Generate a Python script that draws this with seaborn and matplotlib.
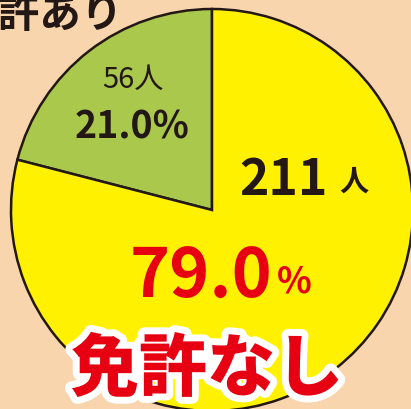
import matplotlib
matplotlib.use("Agg")
import matplotlib.pyplot as plt
import matplotlib.patheffects as pe
import seaborn as sns

# data
labels = ["免許あり", "免許なし"]
counts = [56, 211]
percents = ["21.0%", "79.0%"]

sns.set_theme(style="white")
plt.rcParams['font.family'] = ['Noto Sans CJK JP', 'DejaVu Sans']

BG = "#F9D5AD"
GREEN = "#A9C84C"
YELLOW = "#FFF100"
RED = "#E60012"
DARK = "#231815"

W, H = 411, 410
fig = plt.figure(figsize=(W / 100, H / 100), dpi=100, facecolor=BG)
ax = fig.add_axes([0, 0, 1, 1])
ax.set_facecolor(BG)
ax.set_xlim(0, W)
ax.set_ylim(0, H)
ax.set_aspect("equal")
ax.axis("off")

def Y(y):
    return H - y

ax.pie(counts, colors=[GREEN, YELLOW], startangle=90, counterclock=True,
       center=(212, Y(211)), radius=201,
       wedgeprops=dict(edgecolor=DARK, linewidth=1.8))
ax.set_xlim(0, W)
ax.set_ylim(0, H)

# top-left label (cut off by the top/left edges as in the reference)
ax.text(123, Y(15), labels[0], ha="right", va="center", fontsize=30,
        fontweight="bold", color=DARK)

# green slice labels
ax.text(133, Y(80), f"{counts[0]}人", ha="center", va="center", fontsize=21,
        color=DARK)
ax.text(132, Y(127), percents[0], ha="center", va="center", fontsize=27,
        fontweight="bold", color=DARK)

# yellow slice labels
ax.text(328, Y(195), f"{counts[1]}", ha="right", va="baseline", fontsize=36,
        fontweight="bold", color=DARK)
ax.text(339, Y(191), "人", ha="left", va="baseline", fontsize=21,
        fontweight="bold", color=DARK)

ax.text(272, Y(297), percents[1][:-1], ha="right", va="baseline", fontsize=49,
        fontweight="bold", color=RED)
ax.text(277, Y(293), "%", ha="left", va="baseline", fontsize=26,
        fontweight="bold", color=RED)

t = ax.text(207, Y(371), labels[1], ha="center", va="center", fontsize=49,
            fontweight="heavy", color=RED)
t.set_path_effects([pe.Stroke(linewidth=10, foreground="white"), pe.Normal()])

fig.savefig("out.png", dpi=100, facecolor=BG)
